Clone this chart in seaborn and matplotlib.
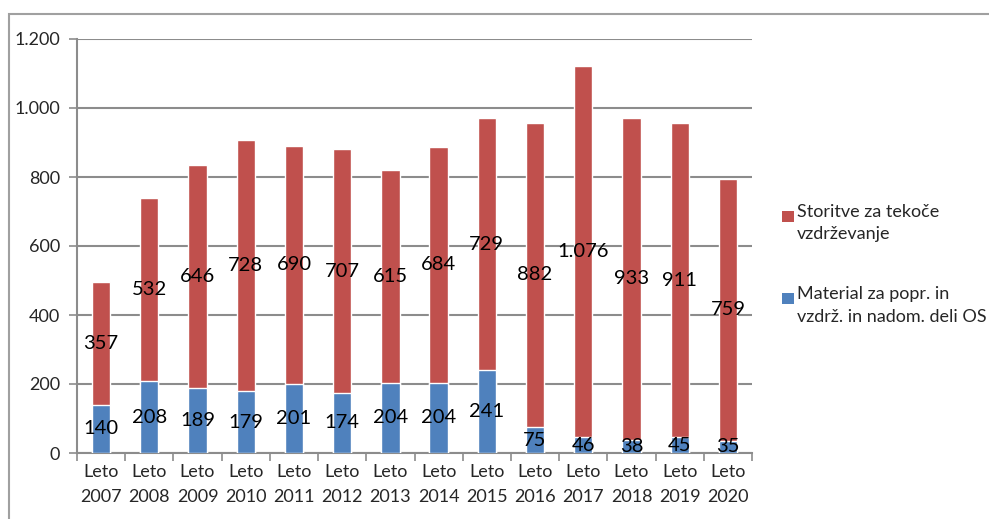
import matplotlib.pyplot as plt
import matplotlib.patches as mpatches
from matplotlib.ticker import FuncFormatter
import seaborn as sns
import pandas as pd

years = [2007, 2008, 2009, 2010, 2011, 2012, 2013, 2014, 2015, 2016, 2017, 2018, 2019, 2020]
material = [140, 208, 189, 179, 201, 174, 204, 204, 241, 75, 46, 38, 45, 35]
storitve = [357, 532, 646, 728, 690, 707, 615, 684, 729, 882, 1076, 933, 911, 759]
legend_labels = ['Storitve za tekoče\nvzdrževanje', 'Material za popr. in\nvzdrž. in nadom. deli OS']

red = '#C0504D'
blue = '#4F81BD'
grid_col = '#8C8C8C'

sns.set_style('white')
plt.rcParams['font.family'] = ['Lato', 'DejaVu Sans']

df = pd.DataFrame({'leto': ['Leto\n%d' % y for y in years],
                   'material': material,
                   'storitve': storitve})
df['skupaj'] = df.material + df.storitve

def fmt(v):
    return '{:,.0f}'.format(v).replace(',', '.')

fig = plt.figure(figsize=(9.89, 5.19), dpi=100)
ax = fig.add_axes([77/989, 66/519, (752-77)/989, (453-39)/519])

sns.barplot(data=df, x='leto', y='skupaj', color=red, width=0.38, saturation=1, ax=ax, zorder=3)
sns.barplot(data=df, x='leto', y='material', color=blue, width=0.38, saturation=1, ax=ax, zorder=3)

# data labels, centred in each segment
for i in range(len(years)):
    ax.text(i, material[i] / 2, fmt(material[i]), ha='center', va='center', fontsize=14.5, color='black', zorder=5)
    ax.text(i, material[i] + storitve[i] / 2, fmt(storitve[i]), ha='center', va='center', fontsize=14.5, color='black', zorder=5)

ax.set_ylim(0, 1200)
ax.set_xlim(-0.5, len(years) - 0.5)
ax.set_yticks(range(0, 1201, 200))
ax.yaxis.set_major_formatter(FuncFormatter(lambda v, p: fmt(v)))
ax.yaxis.grid(True, color=grid_col, linewidth=1.5, zorder=0)
ax.set_axisbelow(True)
ax.set_xlabel('')
ax.set_ylabel('')

# ticks between categories on x
ax.set_xticks([i - 0.5 for i in range(len(years) + 1)], minor=True)
ax.tick_params(axis='x', which='major', length=0, pad=8, labelsize=13)
ax.tick_params(axis='x', which='minor', length=6, width=1.2, color=grid_col, direction='out', bottom=True)
ax.tick_params(axis='y', length=6, width=1.2, color=grid_col, direction='out', left=True, labelsize=13, pad=6)
plt.setp(ax.get_xticklabels(), linespacing=1.65)

for s in ['top', 'right']:
    ax.spines[s].set_visible(False)
for s in ['left', 'bottom']:
    ax.spines[s].set_color(grid_col)
    ax.spines[s].set_linewidth(1.5)

# legend, square beside the first line of each entry
for k, (lab, col) in enumerate(zip(legend_labels, [red, blue])):
    top = 204 + k * 82
    fig.patches.append(mpatches.Rectangle((782/989, 1 - (top + 18)/519), 12/989, 11/519,
                                          transform=fig.transFigure, facecolor=col, edgecolor='none'))
    fig.text(797/989, 1 - top/519, lab, ha='left', va='top', fontsize=13, linespacing=1.5)

# outer chart frame (partially visible)
fig.patches.append(mpatches.Rectangle((9/989, -0.1), 1.1, (519-14)/519 + 0.1,
                                      transform=fig.transFigure, fill=False,
                                      edgecolor='#A0A0A0', linewidth=1.5))

fig.savefig('out.png', dpi=100)
